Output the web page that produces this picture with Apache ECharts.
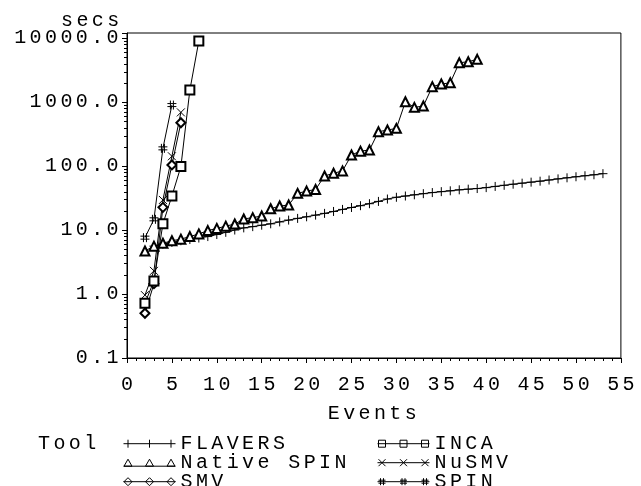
<!DOCTYPE html>
<html>
<head>
<meta charset="utf-8">
<script src="https://cdn.jsdelivr.net/npm/echarts@6/dist/echarts.min.js"></script>
<style>html,body{margin:0;padding:0;background:#fff;}#c{width:641px;height:486px;}</style>
</head>
<body>
<div id="c"></div>
<script>
// wide letter spacing like the original plotter font
(function(){
  var P = CanvasRenderingContext2D.prototype;
  if (!('letterSpacing' in P)) return;
  var LS = '3.4px';
  var f = P.fillText, s = P.strokeText, m = P.measureText;
  P.fillText = function(){ this.letterSpacing = LS; return f.apply(this, arguments); };
  P.strokeText = function(){ this.letterSpacing = LS; return s.apply(this, arguments); };
  P.measureText = function(){ this.letterSpacing = LS; return m.apply(this, arguments); };
})();

var xTickLabels = ['0','5','10','15','20','25','30','35','40','45','50','55'];
var yTickLabels = ['0.1','1.0','10.0','100.0','1000.0','10000.0'];
var yMinorTicks = [0.2,0.3,0.4,0.5,0.6,0.7,0.8,0.9,2,3,4,5,6,7,8,9,20,30,40,50,60,70,80,90,200,300,400,500,600,700,800,900,2000,3000,4000,5000,6000,7000,8000,9000];

var flaversX = [3,4,5,6,7,8,9,10,11,12,13,14,15,16,17,18,19,20,21,22,23,24,25,26,27,28,29,30,31,32,33,34,35,36,37,38,39,40,41,42,43,44,45,46,47,48,49,50,51,52,53];
var flaversY = [5.6,6.0,6.4,6.8,7.1,7.5,7.9,8.5,9.2,10.0,10.8,11.3,11.9,12.5,13.4,14.3,15.2,16.1,17.1,18.2,19.5,21.0,22.5,24.0,25.8,28.0,30.5,32.5,34.0,35.5,37.0,38.5,39.8,41.0,42.5,43.5,44.5,46.0,48,50,52,54,56,58,60.5,63,65.5,68,70.5,73,76];

var nativeX = [2,3,4,5,6,7,8,9,10,11,12,13,14,15,16,17,18,19,20,21,22,23,24,25,26,27,28,29,30,31,32,33,34,35,36,37,38,39];
var nativeY = [4.7,5.6,6.2,6.8,7.2,7.9,8.7,9.8,10.6,11.5,12.4,14.9,15.6,16.6,21.5,23.7,24.6,37.4,40.6,43,70,77,84,149,171,178,344,365,388,1010,826,866,1740,1910,2000,4110,4270,4650];

var incaX = [2,3,4,5,6,7,8];
var incaY = [0.72,1.6,12.5,34,98,1540,9000];

var nusmvX = [2,3,4,5,6];
var nusmvY = [0.96,2.3,29.5,142,690];

var smvX = [2,3,4,5,6];
var smvY = [0.5,1.45,22.6,104,475];

var spinX = [2,3,4,5];
var spinY = [7.6,14.7,189,897];

var legendCol1 = ['FLAVERS','Native SPIN','SMV'];
var legendCol2 = ['INCA','NuSMV','SPIN'];

function pairs(xs, ys){ return xs.map(function(x,i){ return [x, ys[i]]; }); }

var FONT = 'Liberation Mono';
var txt = {fontFamily: FONT, fontSize: 20, color: '#000', lineHeight: 20};

var sym = {
  plus: 'path://M4.5,0V9M0,4.5H9',
  cross: 'path://M0,0L8,8M8,0L0,8',
  hash: 'path://M3,0V9M6,0V9M0,3H9M0,6H9'
};
var leg = {
  FLAVERS: 'path://M0,4.5H52M4.5,0.5V8.5M26,0.5V8.5M47.5,0.5V8.5',
  'Native SPIN': 'path://M0,8H52M0.5,8L4.5,1L8.5,8ZM22,8L26,1L30,8ZM43.5,8L47.5,1L51.5,8Z',
  SMV: 'path://M0,4.5H52M0.5,4.5L4.5,0.5L8.5,4.5L4.5,8.5ZM22,4.5L26,0.5L30,4.5L26,8.5ZM43.5,4.5L47.5,0.5L51.5,4.5L47.5,8.5Z',
  INCA: 'path://M0,4.5H52M1,1H8V8H1ZM22.5,1H29.5V8H22.5ZM44,1H51V8H44Z',
  NuSMV: 'path://M0,4.5H52M1,1L8,8M8,1L1,8M22.5,1L29.5,8M29.5,1L22.5,8M44,1L51,8M51,1L44,8',
  SPIN: 'path://M0,4.5H52M3,1V8M6,1V8M1,3H8M1,6H8M24.5,1V8M27.5,1V8M22.5,3H29.5M22.5,6H29.5M46,1V8M49,1V8M44,3H51M44,6H51'
};
function legendFor(name, left, top){
  return {
    data: [{name: name, icon: leg[name], itemStyle: {color: 'none', borderColor: '#000', borderWidth: 1}}],
    orient: 'horizontal', left: left, top: top, itemWidth: 52, itemHeight: 9, itemGap: 0, padding: 0,
    selectedMode: false, textStyle: Object.assign({}, txt, {lineHeight: 19})
  };
}
var legends = [];
legendCol1.forEach(function(n, i){ legends.push(legendFor(n, 121, 432 + i * 19)); });
legendCol2.forEach(function(n, i){ legends.push(legendFor(n, 375, 432 + i * 19)); });

function lineSeries(name, data, symbol, size, stroked){
  return {
    type: 'line', name: name, data: data,
    symbol: symbol, symbolSize: size, showAllSymbol: true,
    lineStyle: {color: '#000', width: 1},
    itemStyle: stroked ? {color: 'none', borderColor: '#000', borderWidth: 1} : {color: '#000', borderWidth: 1},
    emphasis: {disabled: true}, z: 3
  };
}

var chart = echarts.init(document.getElementById('c'), null, {renderer: 'canvas'});
chart.setOption({
  animation: false,
  backgroundColor: '#fff',
  title: {text: 'secs', left: 56, top: 6, textStyle: Object.assign({}, txt, {fontWeight: 'normal'})},
  graphic: [{type: 'text', left: 38, top: 432, style: {text: 'Tool', font: '20px "Liberation Mono"', fill: '#000'}}],
  grid: {left: 127, right: 10, top: 33, bottom: 128, show: true, borderColor: '#000', borderWidth: 1, containLabel: false},
  legend: legends,
  xAxis: {
    type: 'value', min: 0, max: 55, interval: 5,
    name: 'Events', nameLocation: 'middle', nameGap: 43,
    nameTextStyle: txt,
    axisLine: {lineStyle: {color: '#000', width: 1}},
    axisTick: {show: true, length: 5, lineStyle: {color: '#000'}},
    minorTick: {show: true, splitNumber: 5, length: 3, lineStyle: {color: '#000'}},
    splitLine: {show: false},
    axisLabel: Object.assign({}, txt, {margin: 17, padding: [0, 0, 0, 3.4], formatter: function(v){ var i = Math.round(v/5); return xTickLabels[i] || ''; }})
  },
  yAxis: {
    type: 'log', logBase: 10, min: 0.1, max: 12000,
    axisLine: {show: true, lineStyle: {color: '#000', width: 1}},
    axisTick: {show: true, length: 5, lineStyle: {color: '#000'}},
    splitLine: {show: false},
    axisLabel: Object.assign({}, txt, {margin: 5, formatter: function(v){
      var l = Math.log10(v), r = Math.round(l);
      if (Math.abs(l - r) > 1e-6) return '';
      return yTickLabels[r + 1] || '';
    }})
  },
  series: [
    {
      type: 'custom', name: 'minor', silent: true, clip: false, z: 1,
      data: yMinorTicks.map(function(v){ return [0, v]; }),
      renderItem: function(params, api){
        var p = api.coord([api.value(0), api.value(1)]);
        var y = Math.round(p[1]) + 0.5;
        return {type: 'line', shape: {x1: p[0] - 3, y1: y, x2: p[0], y2: y}, style: {stroke: '#000', lineWidth: 1}};
      }
    },
    lineSeries('FLAVERS', pairs(flaversX, flaversY), sym.plus, 9, true),
    lineSeries('Native SPIN', pairs(nativeX, nativeY), 'emptyTriangle', 9, false),
    lineSeries('SMV', pairs(smvX, smvY), 'emptyDiamond', 9, false),
    lineSeries('INCA', pairs(incaX, incaY), 'emptyRect', 9, false),
    lineSeries('NuSMV', pairs(nusmvX, nusmvY), sym.cross, 8, true),
    lineSeries('SPIN', pairs(spinX, spinY), sym.hash, 9, true)
  ]
});
</script>
</body>
</html>
